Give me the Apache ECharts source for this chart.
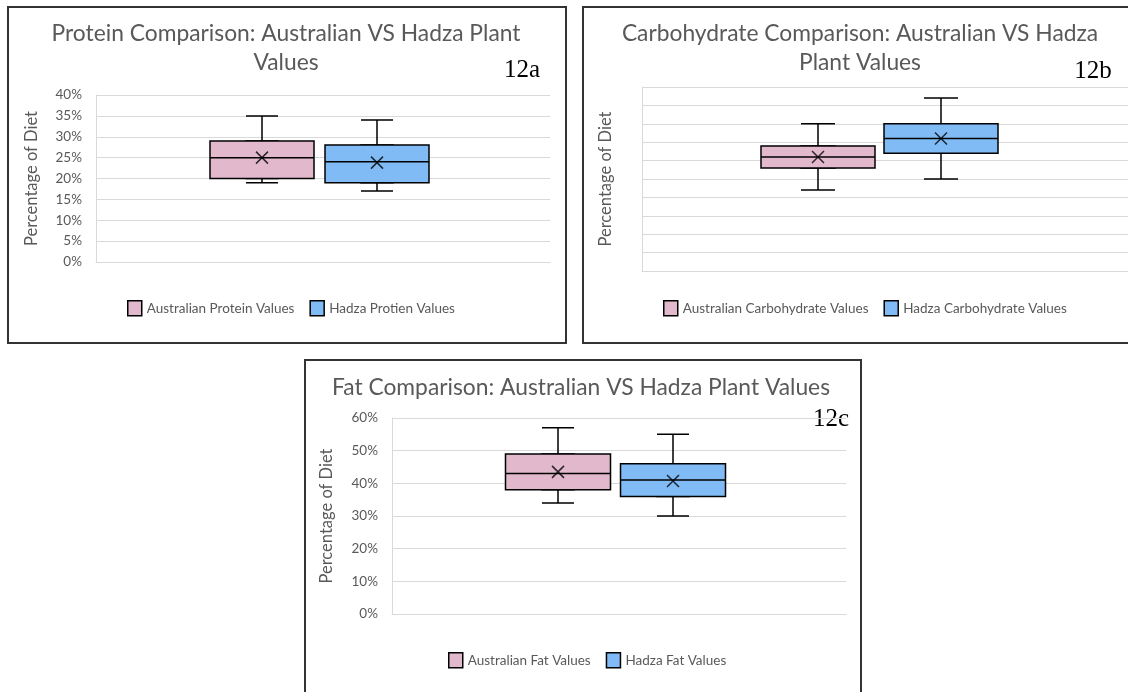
<!DOCTYPE html>
<html>
<head>
<meta charset="utf-8">
<script src="https://cdn.jsdelivr.net/npm/echarts@6/dist/echarts.min.js"></script>
<style>
html, body { margin: 0; padding: 0; background: #fff; overflow: hidden; }
#main { width: 1128px; height: 692px; }
</style>
</head>
<body>
<div id="main"></div>
<script>
// values are min, Q1, median, Q3, max
var groupNames = ['Australian', 'Hadza'];

var proteinTicks = [0, 5, 10, 15, 20, 25, 30, 35, 40];
var proteinAustralian = [19, 20, 25, 29, 35];
var proteinHadza = [17, 19, 24, 28, 34];
var proteinMeans = [25, 23.8];

var carbTicks = [0, 5, 10, 15, 20, 25, 30, 35, 40, 45, 50];
var carbAustralian = [22, 28, 31, 34, 40];
var carbHadza = [25, 32, 36, 40, 47];
var carbMeans = [31, 36];

var fatTicks = [0, 10, 20, 30, 40, 50, 60];
var fatAustralian = [34, 38, 43, 49, 57];
var fatHadza = [30, 36, 41, 46, 55];
var fatMeans = [43.5, 40.7];

var titleProtein = 'Protein Comparison: Australian VS Hadza Plant\nValues';
var titleCarb = 'Carbohydrate Comparison: Australian VS Hadza\nPlant Values';
var titleFat = 'Fat Comparison: Australian VS Hadza Plant Values';
var legendProtein = ['Australian Protein Values', 'Hadza Protien Values'];
var legendCarb = ['Australian Carbohydrate Values', 'Hadza Carbohydrate Values'];
var legendFat = ['Australian Fat Values', 'Hadza Fat Values'];
var axisName = 'Percentage of Diet';

var fills = ['#e2b9cc', '#80bbf6'];
var grey = '#595959';
var crossPath = 'path://M0,0L10,10M10,0L0,10';

var option = {
	animation: false,
	grid: [],
	xAxis: [],
	yAxis: [],
	series: [],
	legend: [],
	graphic: []
};

function addPanel(cfg) {
	var min = cfg.ticks[0];
	var max = cfg.ticks[cfg.ticks.length - 1];
	var step = cfg.ticks[1] - cfg.ticks[0];

	option.graphic.push({
		type: 'rect',
		shape: { x: cfg.frame[0], y: cfg.frame[1], width: cfg.frame[2], height: cfg.frame[3] },
		style: { fill: 'none', stroke: '#333', lineWidth: 2 },
		z: -10
	});
	option.graphic.push({
		type: 'text', x: cfg.titleX, y: cfg.titleY,
		style: { text: cfg.title, font: '22.8px Lato', fill: grey, textAlign: 'center', textVerticalAlign: 'top', lineHeight: 29 }
	});
	option.graphic.push({
		type: 'text', x: cfg.tagX, y: cfg.tagY,
		style: { text: cfg.tag, font: '25px "Liberation Serif"', fill: '#000', textAlign: 'center', textVerticalAlign: 'middle' }
	});

	// background grid with the value axis
	var g = option.grid.length;
	option.grid.push({ left: cfg.grid[0], top: cfg.grid[1], width: cfg.grid[2], height: cfg.grid[3] });
	option.xAxis.push({
		gridIndex: g, type: 'category', data: [''],
		axisLine: { show: true, lineStyle: { color: '#d9d9d9' } },
		axisTick: { show: false }, axisLabel: { show: false }
	});
	option.yAxis.push({
		gridIndex: g, type: 'value', min: min, max: max, interval: step,
		name: axisName, nameLocation: 'middle', nameGap: cfg.nameGap,
		nameTextStyle: { color: grey, fontSize: 16.5, fontFamily: 'Lato' },
		axisLine: { show: true, lineStyle: { color: '#d9d9d9' } },
		axisTick: { show: false },
		axisLabel: { show: cfg.showLabels, formatter: '{value}%', color: grey, fontSize: 13.5, fontFamily: 'Lato', margin: 14 },
		splitLine: { lineStyle: { color: '#d9d9d9' } }
	});

	for (var i = 0; i < 2; i++) {
		var gi = option.grid.length;
		option.grid.push({ left: cfg.centers[i] - cfg.boxW / 2 - 5, top: cfg.grid[1], width: cfg.boxW + 10, height: cfg.grid[3] });
		// two base axes so the whisker and box series are not laid side by side
		var axW = option.xAxis.length;
		option.xAxis.push({ gridIndex: gi, type: 'category', data: [groupNames[i]], show: false });
		var axB = option.xAxis.length;
		option.xAxis.push({ gridIndex: gi, type: 'category', data: [groupNames[i]], show: false });
		var ay = option.yAxis.length;
		option.yAxis.push({ gridIndex: gi, type: 'value', min: min, max: max, show: false, splitLine: { show: false } });
		var v = cfg.values[i];
		// whiskers with short caps
		option.series.push({
			type: 'boxplot', name: cfg.legend[i] + ' whisker', xAxisIndex: axW, yAxisIndex: ay,
			data: [v], boxWidth: [cfg.capW, cfg.capW], silent: true,
			itemStyle: { color: '#fff', borderColor: '#000', borderWidth: 1.5 }
		});
		// box from Q1 to Q3
		option.series.push({
			type: 'boxplot', name: cfg.legend[i], xAxisIndex: axB, yAxisIndex: ay,
			data: [[v[1], v[1], v[2], v[3], v[3]]], boxWidth: [cfg.boxW, cfg.boxW], silent: true,
			itemStyle: { color: fills[i], borderColor: '#000', borderWidth: 1.5 }
		});
		// mean marker
		option.series.push({
			type: 'scatter', xAxisIndex: axB, yAxisIndex: ay, z: 5, silent: true,
			data: [cfg.means[i]], symbol: crossPath, symbolSize: 12,
			itemStyle: { color: 'rgba(0,0,0,0)', borderColor: '#000', borderWidth: 1.5 }
		});
	}

	option.legend.push({
		data: [
			{ name: cfg.legend[0], itemStyle: { color: fills[0], borderColor: '#000', borderWidth: 1.5 } },
			{ name: cfg.legend[1], itemStyle: { color: fills[1], borderColor: '#000', borderWidth: 1.5 } }
		],
		left: cfg.legendPos[0], top: cfg.legendPos[1],
		icon: 'rect', itemWidth: 14, itemHeight: 15, itemGap: 15, selectedMode: false,
		textStyle: { color: grey, fontSize: 13.5, fontFamily: 'Lato' }
	});
}

addPanel({
	ticks: proteinTicks, values: [proteinAustralian, proteinHadza], means: proteinMeans,
	title: titleProtein, legend: legendProtein, tag: '12a', showLabels: true,
	frame: [8, 7, 558, 336], titleX: 286, titleY: 19, tagX: 522, tagY: 70,
	grid: [96, 95, 454, 167], centers: [262, 377], boxW: 104, capW: 32, nameGap: 56,
	legendPos: [122, 295]
});
addPanel({
	ticks: carbTicks, values: [carbAustralian, carbHadza], means: carbMeans,
	title: titleCarb, legend: legendCarb, tag: '12b', showLabels: false,
	frame: [583, 7, 560, 336], titleX: 860, titleY: 19, tagX: 1093, tagY: 71,
	grid: [642, 87, 490, 184], centers: [818, 941], boxW: 114, capW: 34, nameGap: 28,
	legendPos: [658, 295]
});
addPanel({
	ticks: fatTicks, values: [fatAustralian, fatHadza], means: fatMeans,
	title: titleFat, legend: legendFat, tag: '12c', showLabels: true,
	frame: [305, 360, 556, 345], titleX: 581, titleY: 373, tagX: 831, tagY: 419,
	grid: [392, 418, 454, 196], centers: [558, 673], boxW: 105, capW: 32, nameGap: 57,
	legendPos: [443, 647]
});

var myChart = echarts.init(document.getElementById('main'));
myChart.setOption(option);
</script>
</body>
</html>
